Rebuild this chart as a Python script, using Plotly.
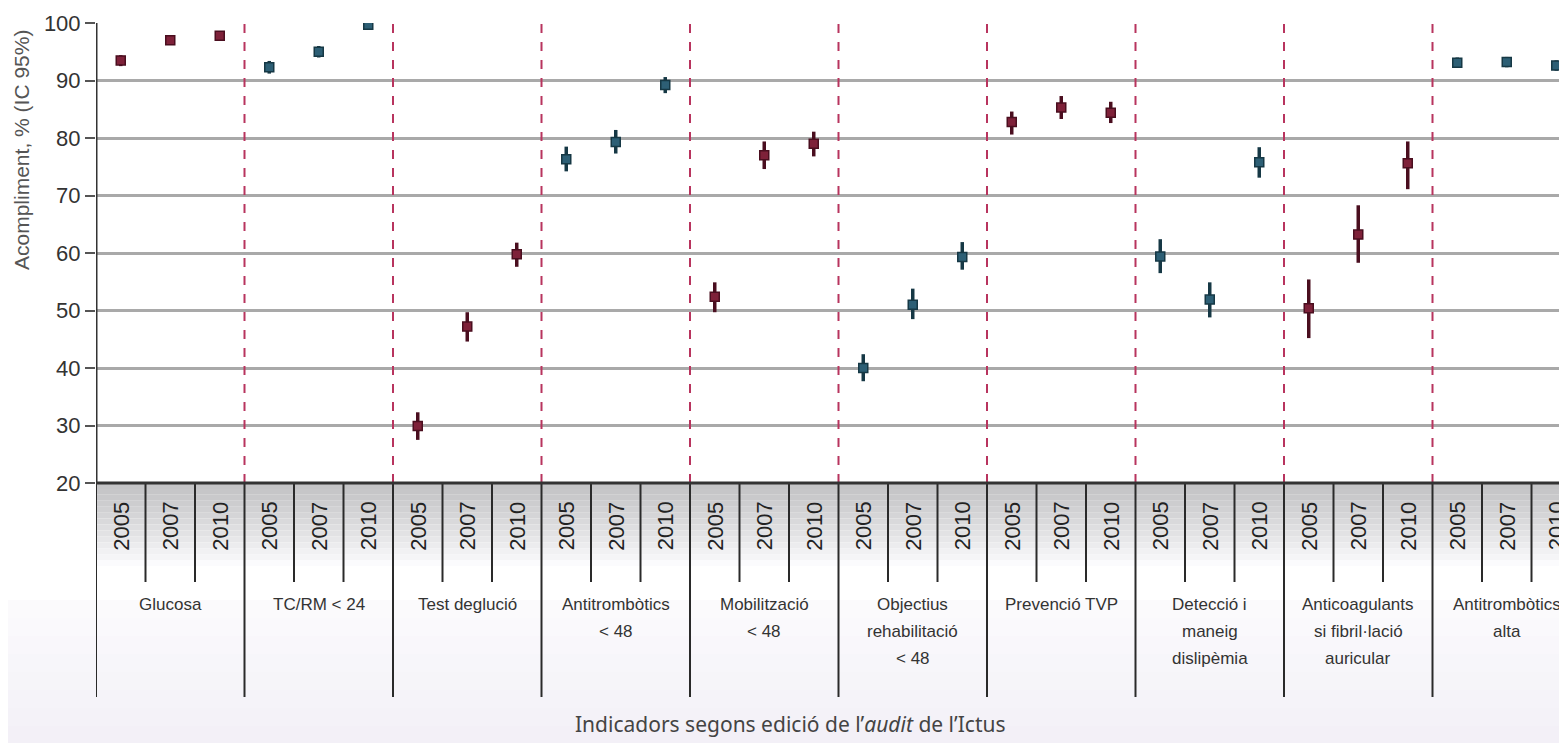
import plotly.graph_objects as go

# ---------------- data ----------------
groups = ["Glucosa", "TC/RM &lt; 24", "Test deglució", "Antitrombòtics<br>&lt; 48",
          "Mobilització<br>&lt; 48", "Objectius<br>rehabilitació<br>&lt; 48", "Prevenció TVP",
          "Detecció i<br>maneig<br>dislipèmia", "Anticoagulants<br>si fibril·lació<br>auricular",
          "Antitrombòtics<br>alta"]
years = ["2005", "2007", "2010"]

glucosa = [93.5, 97.0, 97.8]
tcrm = [92.3, 95.0, 99.7]
test_deglucio = [29.9, 47.2, 59.8]
antitromb48 = [76.3, 79.3, 89.2]
mobilitzacio = [52.4, 77.0, 79.0]
objectius = [40.0, 51.0, 59.3]
prevencio = [82.8, 85.3, 84.4]
deteccio = [59.4, 51.9, 75.8]
anticoag = [50.4, 63.2, 75.6]
antitromb_alta = [93.1, 93.2, 92.6]

ci_low = [
    [92.5, 96.2, 97.2], [91.2, 94.0, 99.2], [27.5, 44.6, 57.6], [74.2, 77.3, 87.8],
    [49.7, 74.6, 76.8], [37.7, 48.5, 57.1], [80.6, 83.3, 82.6], [56.5, 48.8, 73.1],
    [45.2, 58.3, 71.1], [92.2, 92.3, 91.7]]
ci_high = [
    [94.4, 97.8, 98.4], [93.4, 96.0, 100.0], [32.3, 49.7, 61.8], [78.5, 81.4, 90.6],
    [54.9, 79.4, 81.1], [42.4, 53.8, 61.9], [84.6, 87.3, 86.3], [62.4, 54.9, 78.4],
    [55.4, 68.3, 79.4], [94.0, 94.1, 93.5]]

series = [glucosa, tcrm, test_deglucio, antitromb48, mobilitzacio, objectius,
          prevencio, deteccio, anticoag, antitromb_alta]

y_ticks = [20, 30, 40, 50, 60, 70, 80, 90, 100]

# ---------------- styling ----------------
OFF = 8                      # page body margin
W, H = 1567 - OFF, 743 - OFF
L = 96 - OFF
T = 23 - OFF
B = H - (483 - OFF)
plot_h = H - T - B           # 460
plot_w = W - L

def py(px):  # absolute screen pixel (from top) -> paper y
    return (483 - px) / plot_h

def pxx(px):  # absolute screen pixel (from left) -> paper x
    return (px - 96) / plot_w

maroon_fill, maroon_dark = "#7e2139", "#4a0e1f"
blue_fill, blue_dark = "#2d5f75", "#163845"

fig = go.Figure()

n = len(years)
for g, vals in enumerate(series):
    xs = [g * n + i for i in range(n)]
    lo = ci_low[g]
    hi = ci_high[g]
    red = (g % 2 == 0)
    fill = maroon_fill if red else blue_fill
    dark = maroon_dark if red else blue_dark
    fig.add_trace(go.Scatter(
        x=xs, y=vals, mode="markers",
        marker=dict(symbol="square", size=9, color=fill, line=dict(color=dark, width=1.5)),
        error_y=dict(type="data", symmetric=False,
                     array=[h - v for h, v in zip(hi, vals)],
                     arrayminus=[v - l for v, l in zip(vals, lo)],
                     color=dark, thickness=3.5, width=0),
        showlegend=False, hoverinfo="skip"))

shapes = []
# faint lavender tint in the lower area (fading in)
steps2 = 8
for k in range(steps2):
    y0 = py(600 + k * 18)
    y1 = py(600 + (k + 1) * 18)
    shapes.append(dict(type="rect", xref="paper", yref="paper", x0=pxx(0), x1=1,
                       y0=y1, y1=y0, fillcolor="#e4dfee", opacity=0.15 + 0.35 * k / steps2,
                       line=dict(width=0), layer="above"))
# gray gradient band under the axis (drawn as non-overlapping strips)
band_top, band_bot = 0.0, py(566)
steps = 14
for k in range(steps):
    y0 = band_top + (band_bot - band_top) * k / steps
    y1 = band_top + (band_bot - band_top) * (k + 1) / steps
    shade = int(0xc4 + (0xfb - 0xc4) * (k / (steps - 1)) ** 1.2)
    shapes.append(dict(type="rect", xref="paper", yref="paper", x0=0, x1=1, y0=y1, y1=y0,
                       fillcolor="rgb(%d,%d,%d)" % (shade, shade, shade + 2 if shade < 254 else 255),
                       line=dict(width=0), layer="above"))

ngroups = len(groups)
for g in range(ngroups + 1):
    xb = g * n - 0.5
    if 0 < g < ngroups:
        shapes.append(dict(type="line", xref="x", yref="paper", x0=xb, x1=xb, y0=0, y1=1,
                           line=dict(color="#b8345e", width=2, dash="dash")))
    shapes.append(dict(type="line", xref="x", yref="paper", x0=xb, x1=xb, y0=0, y1=py(697),
                       line=dict(color="#2a2a2a", width=2)))
    if g < ngroups:
        for i in range(1, n):
            xs = g * n + i - 0.5
            shapes.append(dict(type="line", xref="x", yref="paper", x0=xs, x1=xs, y0=0,
                               y1=py(582), line=dict(color="#2a2a2a", width=2)))
# y axis line
shapes.append(dict(type="line", xref="x", yref="paper", x0=-0.5, x1=-0.5, y0=0, y1=1,
                   line=dict(color="#333333", width=3)))
# x axis line redrawn on top of the band
shapes.append(dict(type="line", xref="x", yref="paper", x0=-0.5, x1=30, y0=0, y1=0,
                   line=dict(color="#333333", width=3)))

annotations = []
for g, name in enumerate(groups):
    for i, yr in enumerate(years):
        annotations.append(dict(x=g * n + i, y=py(526), xref="x", yref="paper", text=yr,
                                textangle=-90, showarrow=False,
                                font=dict(family="Liberation Sans", size=22, color="#222222"),
                                xanchor="center", yanchor="middle"))
    for j, line in enumerate(name.split("<br>")):
        annotations.append(dict(x=g * n + 1, y=py(604 + 27 * j), xref="x", yref="paper",
                                text=line, showarrow=False, xanchor="center",
                                yanchor="middle",
                                font=dict(family="Liberation Sans Narrow, Arial Narrow, Liberation Sans",
                                          size=17, color="#333333")))

annotations.append(dict(x=pxx(21), y=py(150), xref="paper", yref="paper",
                        text="Acompliment, % (IC 95%)", textangle=-90, showarrow=False,
                        xanchor="center", yanchor="middle",
                        font=dict(family="Liberation Sans", size=21, color="#555555")))
annotations.append(dict(x=pxx(790), y=py(724), xref="paper", yref="paper",
                        text="Indicadors segons edició de l’<i>audit</i> de l’Ictus",
                        showarrow=False, xanchor="center", yanchor="middle",
                        font=dict(family="Noto Sans", size=21, color="#444444")))

fig.update_layout(
    width=W, height=H,
    margin=dict(l=L, r=0, t=T, b=B, pad=0),
    paper_bgcolor="white", plot_bgcolor="white",
    shapes=shapes, annotations=annotations,
    xaxis=dict(range=[-0.5, -0.5 + plot_w / 49.5], tickvals=list(range(ngroups * n)),
               showticklabels=False, ticks="outside", ticklen=6, tickwidth=2,
               tickcolor="#333333", showgrid=False, zeroline=False,
               showline=True, linecolor="#333333", linewidth=3),
    yaxis=dict(range=[20, 100], tickvals=y_ticks, ticks="outside", ticklen=10, tickwidth=2,
               tickcolor="#555555", showgrid=True, gridcolor="#a9a9a9", gridwidth=3,
               zeroline=False, showline=False,
               tickfont=dict(family="Liberation Sans", size=22, color="#333333")),
)

fig.write_html("out.html")
